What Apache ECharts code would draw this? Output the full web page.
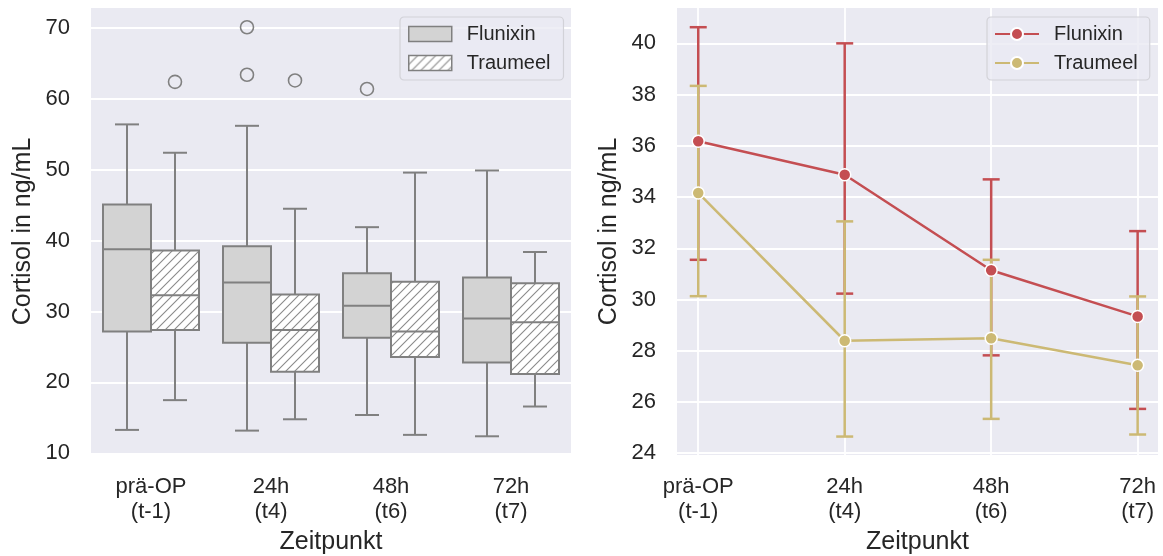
<!DOCTYPE html>
<html>
<head>
<meta charset="utf-8">
<script src="https://cdn.jsdelivr.net/npm/echarts@6.0.0/dist/echarts.min.js"></script>
<style>
html, body { margin: 0; padding: 0; background: #fff; }
#chart { width: 1163px; height: 556px; }
</style>
</head>
<body>
<div id="chart"></div>
<script>
const categories = ['prä-OP\n(t-1)', '24h\n(t4)', '48h\n(t6)', '72h\n(t7)']

// box plot values: [lower whisker, Q1, median, Q3, upper whisker]
const flunixinBox = [
  [13.3, 27.2, 38.8, 45.1, 56.4],
  [13.2, 25.6, 34.1, 39.2, 56.2],
  [15.4, 26.3, 30.8, 35.4, 41.9],
  [12.4, 22.8, 29.0, 34.8, 49.9]
]
const traumeelBox = [
  [17.5, 27.4, 32.3, 38.6, 52.4],
  [14.8, 21.5, 27.4, 32.4, 44.5],
  [12.6, 23.6, 27.2, 34.2, 49.6],
  [16.6, 21.2, 28.5, 34.0, 38.4]
]
// outliers: [category index, group index (0 Flunixin, 1 Traumeel), value]
const outliers = [
  [0, 1, 62.4],
  [1, 0, 70.1],
  [1, 0, 63.4],
  [1, 1, 62.6],
  [2, 0, 61.4]
]

// mean values with error bars
const flunixinMean = [36.18, 34.87, 31.14, 29.34]
const flunixinLow = [31.55, 30.23, 27.82, 25.73]
const flunixinHigh = [40.63, 40.0, 34.69, 32.67]
const traumeelMean = [34.16, 28.39, 28.49, 27.43]
const traumeelLow = [30.13, 24.65, 25.34, 24.73]
const traumeelHigh = [38.34, 33.05, 31.55, 30.12]

const leftTicks = [10, 20, 30, 40, 50, 60, 70]
const rightTicks = [24, 26, 28, 30, 32, 34, 36, 38, 40]
const xTicks = [0, 1, 2, 3]

const FONT = '"Liberation Sans", Arial, sans-serif'
const TEXT = '#262626'
const GRAY = '#808080'
const RED = '#C44E52'
const GOLD = '#CCB974'

function makeHatch() {
  const s = 9
  const c = document.createElement('canvas')
  c.width = s
  c.height = s
  const ctx = c.getContext('2d')
  ctx.fillStyle = '#ffffff'
  ctx.fillRect(0, 0, s, s)
  ctx.strokeStyle = '#8a8a8a'
  ctx.lineWidth = 1.1
  ctx.beginPath()
  ctx.moveTo(-1, s + 1); ctx.lineTo(s + 1, -1)
  ctx.moveTo(-1, 1); ctx.lineTo(1, -1)
  ctx.moveTo(s - 1, s + 1); ctx.lineTo(s + 1, s - 1)
  ctx.stroke()
  return c
}
const hatch = { image: makeHatch(), repeat: 'repeat' }
const boxFills = ['#d3d3d3', hatch]

const boxData = []
flunixinBox.forEach((b, i) => boxData.push([i, 0].concat(b)))
traumeelBox.forEach((b, i) => boxData.push([i, 1].concat(b)))

function renderBox(params, api) {
  const cat = api.value(0)
  const g = api.value(1)
  const band = api.size([1, 0])[0]
  const w = band * 0.4
  const cx = api.coord([cat, 0])[0] + (g === 0 ? -0.2 : 0.2) * band
  const yLo = api.coord([cat, api.value(2)])[1]
  const yQ1 = api.coord([cat, api.value(3)])[1]
  const yMed = api.coord([cat, api.value(4)])[1]
  const yQ3 = api.coord([cat, api.value(5)])[1]
  const yHi = api.coord([cat, api.value(6)])[1]
  const ls = { stroke: GRAY, lineWidth: 2 }
  return {
    type: 'group',
    children: [
      { type: 'line', shape: { x1: cx, y1: yHi, x2: cx, y2: yQ3 }, style: ls },
      { type: 'line', shape: { x1: cx, y1: yQ1, x2: cx, y2: yLo }, style: ls },
      { type: 'line', shape: { x1: cx - w / 4, y1: yHi, x2: cx + w / 4, y2: yHi }, style: ls },
      { type: 'line', shape: { x1: cx - w / 4, y1: yLo, x2: cx + w / 4, y2: yLo }, style: ls },
      { type: 'rect', shape: { x: cx - w / 2, y: yQ3, width: w, height: yQ1 - yQ3 },
        style: { fill: boxFills[g], stroke: GRAY, lineWidth: 2 } },
      { type: 'line', shape: { x1: cx - w / 2, y1: yMed, x2: cx + w / 2, y2: yMed }, style: ls }
    ]
  }
}

function renderOutlier(params, api) {
  const cat = api.value(0)
  const g = api.value(1)
  const band = api.size([1, 0])[0]
  const p = api.coord([cat, api.value(2)])
  return {
    type: 'circle',
    shape: { cx: p[0] + (g === 0 ? -0.2 : 0.2) * band, cy: p[1], r: 6.5 },
    style: { fill: 'none', stroke: GRAY, lineWidth: 1.6 }
  }
}

function errData(low, high) {
  return low.map((v, i) => [i, v, high[i]])
}
function renderErr(color) {
  return function (params, api) {
    const x = api.value(0)
    const lo = api.coord([x, api.value(1)])
    const hi = api.coord([x, api.value(2)])
    const st = { stroke: color, lineWidth: 2.5 }
    const cap = 8.5
    return {
      type: 'group',
      children: [
        { type: 'line', shape: { x1: lo[0], y1: lo[1], x2: hi[0], y2: hi[1] }, style: st },
        { type: 'line', shape: { x1: lo[0] - cap, y1: lo[1], x2: lo[0] + cap, y2: lo[1] }, style: st },
        { type: 'line', shape: { x1: hi[0] - cap, y1: hi[1], x2: hi[0] + cap, y2: hi[1] }, style: st }
      ]
    }
  }
}

const axisLabelBase = { color: TEXT, fontSize: 22, fontFamily: FONT }
const nameStyle = { color: TEXT, fontSize: 25, fontFamily: FONT }
const gridLine = { show: true, lineStyle: { color: '#ffffff', width: 1.8 } }

const chart = echarts.init(document.getElementById('chart'), null, { renderer: 'canvas' })
chart.setOption({
  animation: false,
  backgroundColor: '#ffffff',
  grid: [
    { left: 91, right: 592, top: 8, bottom: 101, show: true, backgroundColor: '#EAEAF2', borderWidth: 0, outerBoundsMode: 'none' },
    { left: 677, right: 5, top: 8, bottom: 101, show: true, backgroundColor: '#EAEAF2', borderWidth: 0, outerBoundsMode: 'none' }
  ],
  legend: [
    {
      orient: 'vertical',
      left: 400,
      top: 17,
      padding: [7, 13, 7, 8],
      itemGap: 9,
      itemWidth: 43,
      itemHeight: 15,
      backgroundColor: 'rgba(234,234,242,0.8)',
      borderColor: '#d2d2d8',
      borderWidth: 1.2,
      borderRadius: 4,
      textStyle: { color: TEXT, fontSize: 20, fontFamily: FONT, padding: [0, 0, 0, 10] },
      data: [
        { name: 'Flunixin', icon: 'rect', itemStyle: { color: '#d3d3d3', borderColor: GRAY, borderWidth: 1.5 } },
        { name: 'Traumeel', icon: 'rect', itemStyle: { color: hatch, borderColor: GRAY, borderWidth: 1.5 } }
      ]
    },
    {
      orient: 'vertical',
      left: 987,
      top: 17,
      padding: [7, 12, 7, 7],
      itemGap: 9,
      itemWidth: 44,
      itemHeight: 15,
      backgroundColor: 'rgba(234,234,242,0.8)',
      borderColor: '#d2d2d8',
      borderWidth: 1.2,
      borderRadius: 4,
      textStyle: { color: TEXT, fontSize: 20, fontFamily: FONT, padding: [0, 0, 0, 10] },
      formatter: n => n.split('_')[0],
      data: ['Flunixin_mean', 'Traumeel_mean']
    }
  ],
  xAxis: [
    {
      type: 'category',
      gridIndex: 0,
      data: categories,
      axisLine: { show: false },
      axisTick: { show: false },
      axisLabel: Object.assign({ lineHeight: 25, margin: 19 }, axisLabelBase),
      splitLine: { show: false },
      name: 'Zeitpunkt',
      nameLocation: 'middle',
      nameGap: 75,
      nameTextStyle: nameStyle
    },
    {
      type: 'value',
      gridIndex: 1,
      min: -0.145,
      max: 3.139,
      axisLine: { show: false },
      axisTick: { show: false, customValues: xTicks },
      axisLabel: Object.assign({ lineHeight: 25, margin: 19, customValues: xTicks,
        formatter: v => categories[Math.round(v)] }, axisLabelBase),
      splitLine: gridLine,
      name: 'Zeitpunkt',
      nameLocation: 'middle',
      nameGap: 75,
      nameTextStyle: nameStyle
    }
  ],
  yAxis: [
    {
      type: 'value',
      gridIndex: 0,
      min: 9.76,
      max: 72.82,
      axisLine: { show: false },
      axisTick: { show: false, customValues: leftTicks },
      axisLabel: Object.assign({ margin: 21, customValues: leftTicks }, axisLabelBase),
      splitLine: gridLine,
      name: 'Cortisol in ng/mL',
      nameLocation: 'middle',
      nameGap: 55,
      nameTextStyle: nameStyle
    },
    {
      type: 'value',
      gridIndex: 1,
      min: 23.93,
      max: 41.38,
      axisLine: { show: false },
      axisTick: { show: false, customValues: rightTicks },
      axisLabel: Object.assign({ margin: 21, customValues: rightTicks }, axisLabelBase),
      splitLine: gridLine,
      name: 'Cortisol in ng/mL',
      nameLocation: 'middle',
      nameGap: 55,
      nameTextStyle: nameStyle
    }
  ],
  series: [
    {
      name: 'Flunixin',
      type: 'custom',
      xAxisIndex: 0,
      yAxisIndex: 0,
      renderItem: renderBox,
      itemStyle: { color: '#d3d3d3', borderColor: GRAY },
      encode: { x: 0, y: [2, 3, 4, 5, 6] },
      data: boxData.filter(d => d[1] === 0),
      silent: true
    },
    {
      name: 'Traumeel',
      type: 'custom',
      xAxisIndex: 0,
      yAxisIndex: 0,
      renderItem: renderBox,
      itemStyle: { color: '#ffffff', borderColor: GRAY },
      encode: { x: 0, y: [2, 3, 4, 5, 6] },
      data: boxData.filter(d => d[1] === 1),
      silent: true
    },
    {
      name: 'outliers',
      type: 'custom',
      xAxisIndex: 0,
      yAxisIndex: 0,
      renderItem: renderOutlier,
      encode: { x: 0, y: 2 },
      data: outliers,
      silent: true
    },
    {
      name: 'Flunixin_err',
      type: 'custom',
      xAxisIndex: 1,
      yAxisIndex: 1,
      renderItem: renderErr(RED),
      encode: { x: 0, y: [1, 2] },
      data: errData(flunixinLow, flunixinHigh),
      z: 2,
      silent: true
    },
    {
      name: 'Traumeel_err',
      type: 'custom',
      xAxisIndex: 1,
      yAxisIndex: 1,
      renderItem: renderErr(GOLD),
      encode: { x: 0, y: [1, 2] },
      data: errData(traumeelLow, traumeelHigh),
      z: 3,
      silent: true
    },
    {
      name: 'Flunixin_mean',
      type: 'line',
      xAxisIndex: 1,
      yAxisIndex: 1,
      data: flunixinMean.map((v, i) => [i, v]),
      symbol: 'circle',
      symbolSize: 12,
      showAllSymbol: true,
      lineStyle: { color: RED, width: 2.5 },
      itemStyle: { color: RED, borderColor: '#ffffff', borderWidth: 1.5 },
      z: 4,
      silent: true
    },
    {
      name: 'Traumeel_mean',
      type: 'line',
      xAxisIndex: 1,
      yAxisIndex: 1,
      data: traumeelMean.map((v, i) => [i, v]),
      symbol: 'circle',
      symbolSize: 12,
      showAllSymbol: true,
      lineStyle: { color: GOLD, width: 2.5 },
      itemStyle: { color: GOLD, borderColor: '#ffffff', borderWidth: 1.5 },
      z: 5,
      silent: true
    }
  ]
})
</script>
</body>
</html>
